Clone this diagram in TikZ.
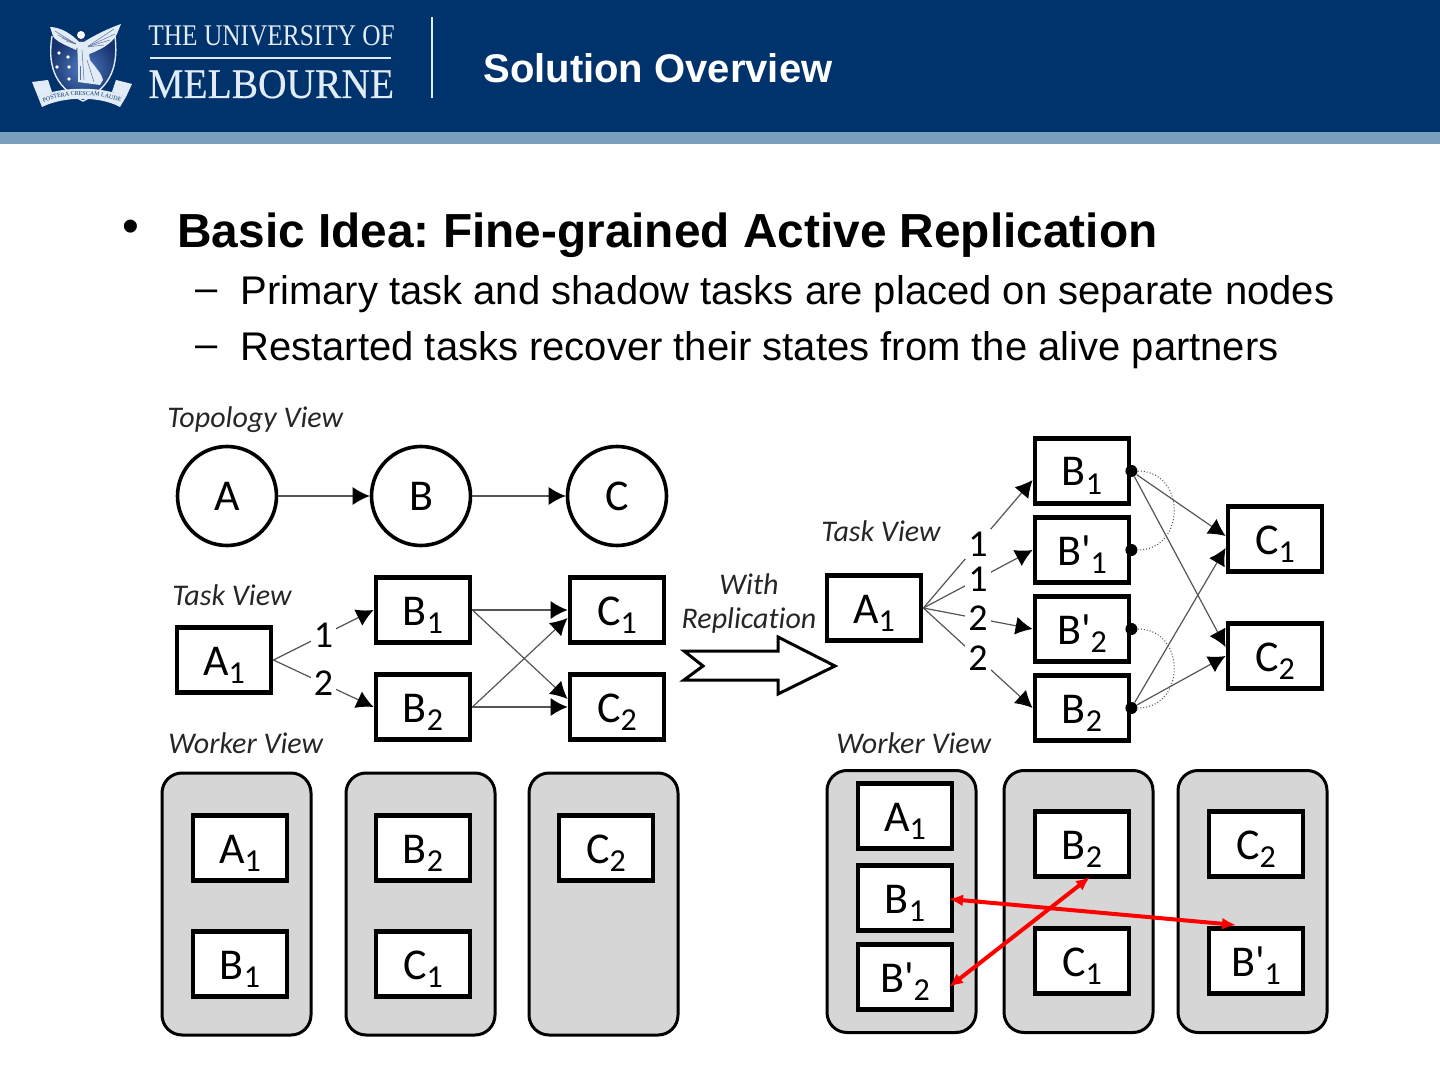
\documentclass[tikz,border=0pt]{standalone}
\usepackage{fontspec}
\setmainfont{Liberation Sans}
\newfontfamily\figfont[Ligatures=NoCommon]{Carlito}
\newfontfamily\logofont{Liberation Serif}
\newfontfamily\logoheavy[FakeBold=0.3]{Liberation Serif}
\usetikzlibrary{arrows.meta,decorations.text}
\definecolor{melnavy}{HTML}{00336B}
\definecolor{melstrip}{HTML}{7BA0BC}
\definecolor{melpale}{HTML}{E2ECF6}
\definecolor{melshield}{HTML}{17336F}
\definecolor{melbright}{HTML}{4F7DC2}
\definecolor{workergray}{HTML}{D6D6D6}
\definecolor{edgegray}{HTML}{555555}
\newcommand{\tasklabel}[2]{#1\raisebox{-0.4ex}{\fontsize{16pt}{16pt}\selectfont #2}}
\tikzset{
  taskbox/.style={draw=black,fill=white,line width=2.4pt,minimum width=47pt,minimum height=32.5pt,inner sep=0pt,
    text height=15pt,text depth=0pt,font=\figfont\fontsize{22pt}{22pt}\selectfont},
  topobox/.style={draw=black,fill=white,circle,line width=1.8pt,minimum size=49.5pt,inner sep=0pt,
    font=\figfont\fontsize{22pt}{22pt}\selectfont},
  workerbox/.style={draw=black,fill=workergray,line width=1.5pt,rounded corners=10pt,minimum width=74.5pt,minimum height=131pt},
  viewlabel/.style={anchor=west,inner sep=0pt,font=\figfont\itshape\fontsize{15pt}{15pt}\selectfont,text=black!85},
  flowedge/.style={edgegray,line width=0.6pt,-{Latex[black,length=8.5pt,width=9pt]}},
  edgelabel/.style={fill=white,text=black,inner sep=1.5pt,font=\figfont\fontsize{19pt}{19pt}\selectfont},
  tapdot/.style={circle,fill=black,inner sep=0pt,minimum size=6pt},
  peerlink/.style={black!70,line width=0.5pt,densely dotted},
  repairlink/.style={red,line width=2pt,{Latex[length=7pt,width=6pt]}-{Latex[length=7pt,width=6pt]}},
  slidetext/.style={anchor=base west,inner sep=0pt,text=black},
  featherline/.style={melshield!70,line width=0.25pt},
}
\begin{document}
\frenchspacing
\begin{tikzpicture}[x=0.5pt,y=-0.5pt]
  \useasboundingbox (0,0) rectangle (1440,1080);
  \fill[melnavy] (0,0) rectangle (1440,132);
  \fill[melstrip] (0,132) rectangle (1440,144);

  % crest
  \shade[inner color=melbright,outer color=melshield] (52,36) .. controls (68,40) and (100,40) .. (115,36)
    .. controls (118,62) and (114,86) .. (83,101) .. controls (52,86) and (48,62) .. (52,36) -- cycle;
  \draw[melpale,line width=0.7pt] (52,36) .. controls (48,62) and (52,86) .. (83,101)
    .. controls (114,86) and (118,62) .. (115,36);
  \fill[melpale] (50,27) .. controls (60,27) and (72,34) .. (79,42) -- (76,50) .. controls (68,46) and (56,42) .. (53,36) -- cycle;
  \fill[melpale] (121,24) .. controls (104,30) and (90,38) .. (84,42) -- (87,55) .. controls (100,50) and (112,44) .. (117,34) -- cycle;
  \foreach \fx/\fy in {55/31,58/35,62/38,66/41}
    \draw[featherline] (\fx,\fy) -- (76,44);
  \foreach \fx/\fy in {114/29,115/34,110/40,104/45}
    \draw[featherline] (\fx,\fy) -- (87,47);
  \fill[white] (81,35) circle[radius=4];
  \fill[melpale] (77,42) -- (87,42) -- (90,60) .. controls (96,68) and (102,74) .. (103,80) -- (100,85) -- (78,82) -- (78,65) -- cycle;
  \draw[featherline] (82,50) -- (84,80);
  \draw[featherline] (87,60) -- (94,82);
  \draw[featherline] (80,66) -- (80,80);
  \foreach \sx/\sy in {59/53,68/57,57/67,69/67,69/79}
    \fill[white] (\sx,\sy) circle[radius=1.8];
  \fill[melpale] (32,82) -- (48,80) -- (52,92) -- (38,97) -- cycle;
  \fill[melpale] (132,84) -- (116,80) -- (112,92) -- (126,97) -- cycle;
  \fill[melpale] (38,97) .. controls (60,86) and (104,86) .. (126,97) -- (120,107) .. controls (100,96) and (64,96) .. (42,107) -- cycle;
  \path[postaction={decorate,decoration={text along path,text align=center,
    text={|\logofont\fontsize{3pt}{3pt}\selectfont\color{melnavy}|POSTERA CRESCAM LAUDE}}}]
    (38,105) .. controls (62,92) and (102,92) .. (126,105);

  % logo and title
  \node[slidetext,text=melpale,font=\logofont\fontsize{15pt}{15pt}\selectfont] (unithe) at (148,46) {\scalebox{0.845}[1]{THE UNIVERSITY OF}};
  \node[slidetext,text=melpale,font=\logoheavy\fontsize{21pt}{21pt}\selectfont] (unimel) at (148,98) {\scalebox{0.94}[1]{MELBOURNE}};
  \draw[melpale,line width=0.6pt] (150,58) -- (391,58);
  \draw[melpale,line width=0.6pt] (432,17) -- (432,98);
  \node[slidetext,text=white,font=\bfseries\fontsize{20pt}{20pt}\selectfont] (title) at (483,83) {Solution Overview};

  % bullets
  \node[slidetext,font=\fontsize{24pt}{24pt}\selectfont] (bul) at (122,243) {•};
  \node[slidetext,font=\bfseries\fontsize{23.9pt}{24pt}\selectfont] (idea) at (177,248) {Basic Idea: Fine-grained Active Replication};
  \node[slidetext,font=\fontsize{20pt}{20pt}\selectfont] (dasha) at (195,302) {–};
  \node[slidetext,font=\fontsize{20pt}{20pt}\selectfont] (subbulleta) at (240,305) {Primary task and shadow tasks are placed on separate nodes};
  \node[slidetext,font=\fontsize{20pt}{20pt}\selectfont] (dashb) at (195,358) {–};
  \node[slidetext,font=\fontsize{20pt}{20pt}\selectfont] (subbulletb) at (240,361) {Restarted tasks recover their states from the alive partners};

  % topology view
  \node[viewlabel] (topolabel) at (167,420) {Topology View};
  \node[topobox] (ta) at (227,496) {A};
  \node[topobox] (tb) at (421,496) {B};
  \node[topobox] (tc) at (617,496) {C};
  \draw[flowedge] (ta) -- (tb);
  \draw[flowedge] (tb) -- (tc);

  % task view before replication
  \node[viewlabel] (tasklabela) at (172,595) {Task View};
  \node[taskbox] (la) at (224,660) {\tasklabel{A}{1}};
  \node[taskbox] (lba) at (423,610) {\tasklabel{B}{1}};
  \node[taskbox] (lbb) at (423,707) {\tasklabel{B}{2}};
  \node[taskbox] (lca) at (617,610) {\tasklabel{C}{1}};
  \node[taskbox] (lcb) at (617,707) {\tasklabel{C}{2}};
  \draw[flowedge] (la.east) -- node[edgelabel] (lea) {1} (lba.west);
  \draw[flowedge] (la.east) -- node[edgelabel] (leb) {2} (lbb.west);
  \draw[flowedge] (lba.east) -- (lca.west);
  \draw[flowedge] (lba.east) -- ([yshift=4pt]lcb.west);
  \draw[flowedge] (lbb.east) -- ([yshift=-4pt]lca.west);
  \draw[flowedge] (lbb.east) -- (lcb.west);

  % replication arrow
  \node[font=\figfont\itshape\fontsize{15pt}{15pt}\selectfont,text=black!85,inner sep=0pt] (withlabel) at (749,584) {With};
  \node[font=\figfont\itshape\fontsize{15pt}{15pt}\selectfont,text=black!85,inner sep=0pt] (repllabel) at (749,620) {Replication};
  \draw[black,line width=1.5pt,fill=white] (684,651) -- (778,651) -- (778,637) -- (835,666) -- (778,694) -- (778,680)
    -- (684,680) -- (703,666) -- cycle;

  % task view after replication
  \node[viewlabel] (tasklabelb) at (821,531) {Task View};
  \node[taskbox] (ra) at (874,608) {\tasklabel{A}{1}};
  \node[taskbox] (rba) at (1082,471) {\tasklabel{B}{1}};
  \node[taskbox] (rsa) at (1082,550) {\tasklabel{B'}{1}};
  \node[taskbox] (rsb) at (1082,629) {\tasklabel{B'}{2}};
  \node[taskbox] (rbb) at (1082,708) {\tasklabel{B}{2}};
  \node[taskbox] (rca) at (1275,539) {\tasklabel{C}{1}};
  \node[taskbox] (rcb) at (1275,656) {\tasklabel{C}{2}};
  \draw[flowedge] (ra.east) -- node[edgelabel] (rea) {1} ([yshift=-4.5pt]rba.west);
  \draw[flowedge] (ra.east) -- node[edgelabel] (reb) {1} (rsa.west);
  \draw[flowedge] (ra.east) -- node[edgelabel] (rec) {2} (rsb.west);
  \draw[flowedge] (ra.east) -- node[edgelabel] (red) {2} (rbb.west);
  \node[tapdot] (dba) at (rba.east) {};
  \node[tapdot] (dsa) at (rsa.east) {};
  \node[tapdot] (dsb) at (rsb.east) {};
  \node[tapdot] (dbb) at (rbb.east) {};
  \draw[peerlink] (dba) .. controls +(55,0) and +(55,0) .. (dsa);
  \draw[peerlink] (dsb) .. controls +(55,0) and +(55,0) .. (dbb);
  \draw[flowedge] (dba) -- ([yshift=1.5pt]rca.west);
  \draw[flowedge] (dba) -- ([yshift=4.5pt]rcb.west);
  \draw[flowedge] (dbb) -- ([yshift=-4.5pt]rca.west);
  \draw[flowedge] (dbb) -- (rcb.west);

  % worker view before replication
  \node[viewlabel] (workerlabela) at (168,743) {Worker View};
  \node[workerbox] (lwa) at (236.5,904) {};
  \node[workerbox] (lwb) at (420.5,904) {};
  \node[workerbox] (lwc) at (603.5,904) {};
  \node[taskbox] (lwaa) at (240,848) {\tasklabel{A}{1}};
  \node[taskbox] (lwab) at (240,964) {\tasklabel{B}{1}};
  \node[taskbox] (lwba) at (423,848) {\tasklabel{B}{2}};
  \node[taskbox] (lwbb) at (423,964) {\tasklabel{C}{1}};
  \node[taskbox] (lwca) at (606,848) {\tasklabel{C}{2}};

  % worker view after replication
  \node[viewlabel] (workerlabelb) at (836,743) {Worker View};
  \node[workerbox] (rwa) at (901.5,901.5) {};
  \node[workerbox] (rwb) at (1078.5,901.5) {};
  \node[workerbox] (rwc) at (1252.5,901.5) {};
  \node[taskbox] (rwaa) at (905,816) {\tasklabel{A}{1}};
  \node[taskbox] (rwab) at (905,898) {\tasklabel{B}{1}};
  \node[taskbox] (rwac) at (905,977) {\tasklabel{B'}{2}};
  \node[taskbox] (rwba) at (1082,844) {\tasklabel{B}{2}};
  \node[taskbox] (rwbb) at (1082,961) {\tasklabel{C}{1}};
  \node[taskbox] (rwca) at (1256,844) {\tasklabel{C}{2}};
  \node[taskbox] (rwcb) at (1256,961) {\tasklabel{B'}{1}};
  \coordinate (fixaa) at (949,899);
  \coordinate (fixab) at (1236,925);
  \coordinate (fixba) at (949,987);
  \coordinate (fixbb) at (1090,877);
  \draw[repairlink] (fixaa) -- (fixab);
  \draw[repairlink] (fixba) -- (fixbb);
\end{tikzpicture}
\end{document}
